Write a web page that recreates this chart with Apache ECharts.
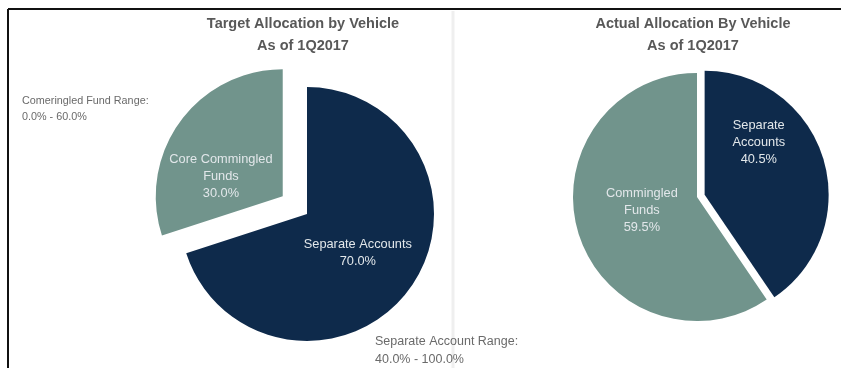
<!DOCTYPE html>
<html>
<head>
<meta charset="utf-8">
<script src="https://cdn.jsdelivr.net/npm/echarts@6/dist/echarts.min.js"></script>
<style>
  html, body { margin: 0; padding: 0; background: #ffffff; }
  #chart { width: 841px; height: 368px; }
</style>
</head>
<body>
<div id="chart"></div>
<script>
// Allocation by vehicle, 1Q2017
const targetNames = ['Separate Accounts', 'Core Commingled\nFunds'];
const targetValues = [70.0, 30.0];
const actualNames = ['Separate\nAccounts', 'Commingled\nFunds'];
const actualValues = [40.5, 59.5];
const titleLines = ['Target Allocation by Vehicle\nAs of 1Q2017', 'Actual Allocation By Vehicle\nAs of 1Q2017'];
const rangeNotes = ['Comeringled Fund Range:\n0.0% - 60.0%', 'Separate Account Range:\n40.0% - 100.0%'];

const navy = '#0e2a4b';
const sage = '#71948c';
const font = '"Liberation Sans", "Open Sans", sans-serif';

// label nudges per [series][slice]
const labelShift = [
  [[-3, 0], [-8, 19]],
  [[-8, -33], [7, -6]]
];

const chart = echarts.init(document.getElementById('chart'), null, { renderer: 'canvas' });

function pctLabel(p) {
  return p.name + '\n' + p.value.toFixed(1) + '%';
}

const labelBase = {
  show: true,
  position: 'inside',
  color: '#e2e7ea',
  fontFamily: font,
  fontSize: 12.8,
  lineHeight: 17,
  formatter: pctLabel
};

const titleStyle = { fontFamily: font, fontSize: 14.5, fontWeight: 'bold', fill: '#585858', lineHeight: 22, textAlign: 'center' };
const noteStyle = { fontFamily: font, fontSize: 10.8, lineHeight: 16, fill: '#6a6a6a' };
const noteStyleLarge = { fontFamily: font, fontSize: 12.5, lineHeight: 18, fill: '#6a6a6a' };

chart.setOption({
  animation: false,
  graphic: [
    { type: 'line', shape: { x1: 8, y1: 9, x2: 841, y2: 9 }, style: { stroke: '#111', lineWidth: 2 } },
    { type: 'line', shape: { x1: 8, y1: 9, x2: 8, y2: 368 }, style: { stroke: '#111', lineWidth: 2 } },
    { type: 'line', shape: { x1: 453, y1: 11, x2: 453, y2: 368 }, style: { stroke: '#efefef', lineWidth: 3 } },
    { type: 'text', x: 303, y: 13, style: Object.assign({ text: titleLines[0] }, titleStyle) },
    { type: 'text', x: 693, y: 13, style: Object.assign({ text: titleLines[1] }, titleStyle) },
    { type: 'text', x: 22, y: 93, style: Object.assign({ text: rangeNotes[0] }, noteStyle) },
    { type: 'text', x: 375, y: 333, style: Object.assign({ text: rangeNotes[1] }, noteStyleLarge) }
  ],
  series: [
    {
      type: 'pie',
      center: [307, 214],
      radius: 127,
      startAngle: 90,
      clockwise: true,
      selectedMode: 'single',
      selectedOffset: 30,
      label: labelBase,
      labelLine: { show: false },
      labelLayout: function (p) {
        const s = labelShift[0][p.dataIndex];
        return { dx: s[0], dy: s[1] };
      },
      emphasis: { disabled: true },
      data: [
        { name: targetNames[0], value: targetValues[0], itemStyle: { color: navy } },
        { name: targetNames[1], value: targetValues[1], selected: true, itemStyle: { color: sage } }
      ]
    },
    {
      type: 'pie',
      center: [697, 197],
      radius: 124,
      startAngle: 90,
      clockwise: true,
      selectedMode: 'single',
      selectedOffset: 8,
      label: labelBase,
      labelLine: { show: false },
      labelLayout: function (p) {
        const s = labelShift[1][p.dataIndex];
        return { dx: s[0], dy: s[1] };
      },
      emphasis: { disabled: true },
      data: [
        { name: actualNames[0], value: actualValues[0], selected: true, itemStyle: { color: navy } },
        { name: actualNames[1], value: actualValues[1], itemStyle: { color: sage } }
      ]
    }
  ]
});
</script>
</body>
</html>
